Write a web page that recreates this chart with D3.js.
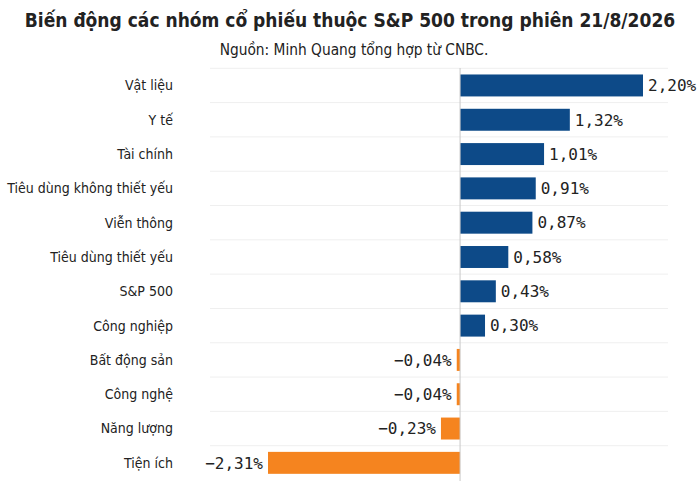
<!DOCTYPE html>
<html>
<head>
<meta charset="utf-8">
<script src="https://cdn.jsdelivr.net/npm/d3@7"></script>
<style>
  html, body { margin: 0; padding: 0; background: #fff; }
  .title { font-family: "DejaVu Sans Condensed", "DejaVu Sans", sans-serif; font-weight: bold; font-size: 19px; fill: #222; }
  .subtitle { font-family: "DejaVu Sans Condensed", "DejaVu Sans", sans-serif; font-size: 15.3px; fill: #222; }
  .cat { font-family: "DejaVu Sans Condensed", "DejaVu Sans", sans-serif; font-size: 14px; fill: #222; }
  .val { font-family: "DejaVu Sans Mono", monospace; font-size: 16px; fill: #222; }
</style>
</head>
<body>
<svg id="chart" width="700" height="481"></svg>
<script>
// Sector performance, session 21/8/2026 (%)
const categories = [
  "Vật liệu", "Y tế", "Tài chính", "Tiêu dùng không thiết yếu", "Viễn thông",
  "Tiêu dùng thiết yếu", "S&P 500", "Công nghiệp", "Bất động sản", "Công nghệ",
  "Năng lượng", "Tiện ích"
];
const values = [2.20, 1.32, 1.01, 0.91, 0.87, 0.58, 0.43, 0.30, -0.04, -0.04, -0.23, -2.31];

const W = 700, H = 481;
const svg = d3.select("#chart");

const x = d3.scaleLinear().domain([-2.31, 2.20]).range([268, 643]);
const y = d3.scaleBand().domain(categories).range([68.3, 480])
  .paddingInner(0.36).paddingOuter(0.18);

const fmt = v => (v < 0 ? "\u2212" : "") + Math.abs(v).toFixed(2).replace(".", ",") + "%";

// title
svg.append("text").attr("class", "title")
  .attr("x", W / 2).attr("y", 27).attr("text-anchor", "middle")
  .text("Biến động các nhóm cổ phiếu thuộc S&P 500 trong phiên 21/8/2026");
svg.append("text").attr("class", "subtitle")
  .attr("x", 354).attr("y", 55).attr("text-anchor", "middle")
  .text("Nguồn: Minh Quang tổng hợp từ CNBC.");

// row gridlines
const step = y.step();
svg.append("g").selectAll("line")
  .data(categories)
  .join("line")
  .attr("x1", 210).attr("x2", 668)
  .attr("y1", d => y(d) - step * y.paddingInner() / 2)
  .attr("y2", d => y(d) - step * y.paddingInner() / 2)
  .attr("stroke", "#efefef").attr("stroke-width", 1);

// bars
const data = categories.map((c, i) => ({ cat: c, v: values[i] }));
svg.append("g").selectAll("rect")
  .data(data)
  .join("rect")
  .attr("x", d => x(Math.min(0, d.v)))
  .attr("width", d => Math.abs(x(d.v) - x(0)))
  .attr("y", d => y(d.cat))
  .attr("height", y.bandwidth())
  .attr("fill", d => d.v >= 0 ? "#0d4a88" : "#f5841f");

// zero line
svg.append("line")
  .attr("x1", x(0)).attr("x2", x(0))
  .attr("y1", 68).attr("y2", H)
  .attr("stroke", "#c8c8c8").attr("stroke-width", 1);

// category labels
svg.append("g").selectAll("text")
  .data(categories)
  .join("text")
  .attr("class", "cat")
  .attr("x", 173)
  .attr("y", d => y(d) + y.bandwidth() / 2)
  .attr("dy", "0.35em")
  .attr("text-anchor", "end")
  .text(d => d);

// value labels
svg.append("g").selectAll("text")
  .data(data)
  .join("text")
  .attr("class", "val")
  .attr("x", d => d.v >= 0 ? x(d.v) + 5 : x(d.v) - 5)
  .attr("y", d => y(d.cat) + y.bandwidth() / 2)
  .attr("dy", "0.36em")
  .attr("text-anchor", d => d.v >= 0 ? "start" : "end")
  .text(d => fmt(d.v));
</script>
</body>
</html>
